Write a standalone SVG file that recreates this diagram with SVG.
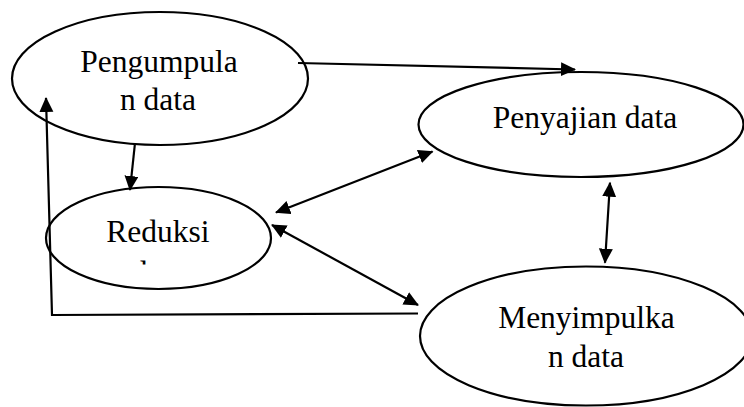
<svg xmlns="http://www.w3.org/2000/svg" width="744" height="407" viewBox="0 0 744 407">
<style>
.node ellipse{fill:#fff;stroke:#000;stroke-width:2.2}
.lbl{font-family:"Liberation Serif","Times New Roman",serif;font-size:31.5px;fill:#000;text-anchor:middle}
.conn{fill:none;stroke:#000;stroke-width:2.2}
</style>
<defs>
<marker id="ah" markerUnits="userSpaceOnUse" markerWidth="16" markerHeight="16" refX="14" refY="7" orient="auto-start-reverse">
<path d="M0,0 L15,7 L0,14 Z" fill="#000"/>
</marker>
<clipPath id="clipRed"><rect x="40" y="180" width="240" height="84.5"/></clipPath>
</defs>
<rect width="744" height="407" fill="#fff"/>
<g id="pengumpulan" class="node">
<ellipse cx="160" cy="78.5" rx="148" ry="66.5"/>
<text class="lbl" x="159" y="72">Pengumpula</text>
<text class="lbl" x="158" y="110">n data</text>
</g>
<g id="penyajian" class="node">
<ellipse cx="581" cy="124.5" rx="162.5" ry="52.5"/>
<text class="lbl" x="585" y="128">Penyajian data</text>
</g>
<g id="reduksi" class="node">
<ellipse cx="158.5" cy="238" rx="112.5" ry="51"/>
<text class="lbl" x="158" y="242">Reduksi</text>
<text class="lbl" x="158" y="283" clip-path="url(#clipRed)">data</text>
</g>
<g id="menyimpulkan" class="node">
<ellipse cx="586" cy="336" rx="166" ry="69.5"/>
<text class="lbl" x="586.5" y="328">Menyimpulka</text>
<text class="lbl" x="586" y="367">n data</text>
</g>
<g id="connectors">
<path class="conn" d="M298,63 L575,69.5" marker-end="url(#ah)"/>
<path class="conn" d="M135,143 L130,190" marker-end="url(#ah)"/>
<path class="conn" d="M276,212.5 L432.5,151.5" marker-start="url(#ah)" marker-end="url(#ah)"/>
<path class="conn" d="M272,225 L418,305" marker-start="url(#ah)" marker-end="url(#ah)"/>
<path class="conn" d="M610,182.7 L605,262.7" marker-start="url(#ah)" marker-end="url(#ah)"/>
<path class="conn" d="M418,313.5 L52,315 L46,98" marker-end="url(#ah)"/>
</g>
</svg>
